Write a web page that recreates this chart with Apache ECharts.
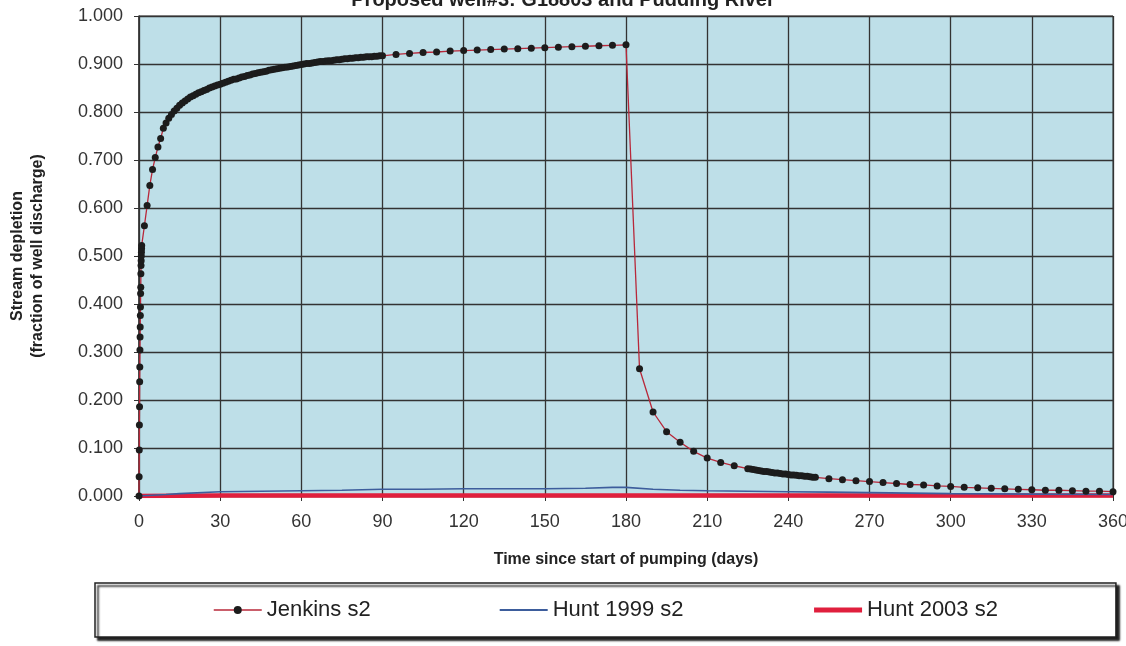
<!DOCTYPE html>
<html>
<head>
<meta charset="utf-8">
<title>Stream depletion</title>
<script src="https://cdn.jsdelivr.net/npm/echarts@6/dist/echarts.min.js"></script>
<style>
  html, body { margin: 0; padding: 0; background: #fff; }
  #main { width: 1126px; height: 646px; }
</style>
</head>
<body>
<div id="main"></div>
<script>
var chartDom = document.getElementById('main');
var myChart = echarts.init(chartDom);
var option;

// Jenkins s2
var jenkinsDays = [
  0, 0.05, 0.1, 0.15, 0.2, 0.25, 0.3, 0.35, 0.4, 0.45, 0.5, 0.55, 0.6, 0.65, 0.7, 0.75, 0.8, 0.85, 0.9, 0.95, 1,
  2, 3, 4, 5, 6, 7, 8, 9, 10,
  11, 12, 13, 14, 15, 16, 17, 18, 19, 20,
  21, 22, 23, 24, 25, 26, 27, 28, 29, 30,
  31, 32, 33, 34, 35, 36, 37, 38, 39, 40, 41, 42, 43, 44, 45,
  46, 47, 48, 49, 50, 51, 52, 53, 54, 55, 56, 57, 58, 59, 60,
  61, 62, 63, 64, 65, 66, 67, 68, 69, 70, 71, 72, 73, 74, 75,
  76, 77, 78, 79, 80, 81, 82, 83, 84, 85, 86, 87, 88, 89, 90,
  95, 100, 105, 110, 115, 120, 125, 130, 135, 140, 145, 150, 155, 160, 165, 170, 175, 180,
  185, 190, 195, 200, 205, 210, 215, 220, 225,
  226, 227, 228, 229, 230, 231, 232, 233, 234, 235, 236, 237, 238, 239, 240,
  241, 242, 243, 244, 245, 246, 247, 248, 249, 250,
  255, 260, 265, 270, 275, 280, 285, 290, 295, 300, 305, 310, 315, 320, 325, 330,
  335, 340, 345, 350, 355, 360
];
var jenkinsValues = [
  0, 0.040, 0.096, 0.148, 0.186, 0.238, 0.269, 0.304, 0.331, 0.352, 0.376, 0.394, 0.422, 0.435, 0.463, 0.480, 0.490, 0.500, 0.508, 0.515, 0.522,
  0.563, 0.605, 0.647, 0.680, 0.705, 0.727, 0.745, 0.766, 0.777,
  0.787, 0.795, 0.802, 0.808, 0.814, 0.819, 0.823, 0.827, 0.831, 0.834,
  0.837, 0.840, 0.842, 0.845, 0.847, 0.850, 0.852, 0.854, 0.856, 0.858,
  0.860, 0.862, 0.864, 0.866, 0.868, 0.869, 0.871, 0.873, 0.874, 0.876, 0.877, 0.879, 0.880, 0.882, 0.883,
  0.884, 0.885, 0.887, 0.888, 0.889, 0.890, 0.891, 0.892, 0.893, 0.894, 0.895, 0.896, 0.897, 0.898, 0.899,
  0.900, 0.901, 0.901, 0.902, 0.903, 0.904, 0.905, 0.905, 0.906, 0.907, 0.907, 0.908, 0.909, 0.909, 0.910,
  0.911, 0.911, 0.912, 0.912, 0.913, 0.913, 0.914, 0.914, 0.915, 0.915, 0.915, 0.916, 0.916, 0.917, 0.917,
  0.920, 0.922, 0.924, 0.925, 0.927, 0.928, 0.929, 0.930, 0.931, 0.932, 0.933, 0.934, 0.935, 0.936, 0.937, 0.938, 0.939, 0.940,
  0.265, 0.175, 0.134, 0.112, 0.093, 0.079, 0.070, 0.063, 0.057,
  0.056, 0.055, 0.054, 0.053, 0.052, 0.051, 0.051, 0.050, 0.049, 0.048, 0.048, 0.047, 0.046, 0.046, 0.045,
  0.044, 0.044, 0.043, 0.042, 0.042, 0.041, 0.041, 0.040, 0.039, 0.039,
  0.036, 0.034, 0.032, 0.030, 0.028, 0.026, 0.024, 0.023, 0.021, 0.020, 0.018, 0.017, 0.016, 0.015, 0.014, 0.013,
  0.012, 0.012, 0.011, 0.010, 0.010, 0.009
];

// Hunt 1999 s2
var hunt1999Days = [0, 10, 15, 30, 45, 60, 75, 90, 105, 120, 135, 150, 165, 175, 180, 190, 200, 210, 225, 240, 255, 270, 285, 300, 330, 360];
var hunt1999Values = [0, 0.003, 0.005, 0.009, 0.010, 0.011, 0.012, 0.014, 0.014, 0.015, 0.015, 0.015, 0.016, 0.018, 0.018, 0.014, 0.012, 0.011, 0.010, 0.009, 0.008, 0.007, 0.006, 0.005, 0.004, 0.003];

// Hunt 2003 s2
var hunt2003Days = [0, 30, 60, 90, 120, 150, 180, 210, 240, 270, 300, 330, 360];
var hunt2003Values = [0, 0.001, 0.001, 0.001, 0.001, 0.001, 0.001, 0.001, 0.001, 0.001, 0.001, 0.001, 0.001];

function pairs(xs, ys) {
  return xs.map(function (x, i) { return [x, ys[i]]; });
}

var FONT = '"Liberation Sans", Arial, sans-serif';

option = {
  animation: false,
  backgroundColor: '#fff',
  title: {
    text: 'Proposed well#3: G18803 and Pudding River',
    left: 'center',
    top: -15,
    textStyle: { fontFamily: FONT, fontSize: 20, fontWeight: 'bold', color: '#222' }
  },
  grid: {
    left: 139,
    right: 13,
    top: 16,
    bottom: 150,
    outerBoundsMode: 'none',
    containLabel: false,
    show: true,
    backgroundColor: '#bedfe8',
    borderColor: '#333',
    borderWidth: 1
  },
  legend: {
    left: 95,
    top: 583,
    width: 820,
    padding: [16, 118],
    itemGap: 128,
    itemWidth: 48,
    itemHeight: 10,
    backgroundColor: '#fff',
    borderColor: '#222',
    borderWidth: 1.5,
    shadowColor: 'rgba(0,0,0,0.9)',
    shadowBlur: 2,
    shadowOffsetX: 3,
    shadowOffsetY: 3,
    textStyle: { fontFamily: FONT, fontSize: 22, color: '#222' },
    data: [
      { name: 'Jenkins s2', lineStyle: { width: 1.5 } },
      { name: 'Hunt 1999 s2', itemStyle: { opacity: 0 }, lineStyle: { width: 2 } },
      { name: 'Hunt 2003 s2', itemStyle: { opacity: 0 }, lineStyle: { width: 5 } }
    ]
  },
  xAxis: {
    type: 'value',
    min: 0,
    max: 360,
    interval: 30,
    name: 'Time since start of pumping (days)',
    nameLocation: 'middle',
    nameGap: 56,
    nameTextStyle: { fontFamily: FONT, fontSize: 16, fontWeight: 'bold', color: '#222' },
    axisLine: { lineStyle: { color: '#333', width: 1.5 } },
    axisTick: { show: true, length: 5, lineStyle: { color: '#333' } },
    axisLabel: { fontFamily: FONT, fontSize: 18, color: '#333', margin: 17 },
    splitLine: { show: true, lineStyle: { color: '#333', width: 1.3 } }
  },
  yAxis: {
    type: 'value',
    min: 0,
    max: 1,
    interval: 0.1,
    name: 'Stream depletion\n(fraction of well discharge)',
    nameLocation: 'middle',
    nameGap: 91,
    nameTextStyle: { fontFamily: FONT, fontSize: 16, fontWeight: 'bold', color: '#222', lineHeight: 20 },
    axisLine: { show: true, lineStyle: { color: '#333', width: 1.5 } },
    axisTick: { show: true, length: 5, lineStyle: { color: '#333' } },
    axisLabel: {
      fontFamily: FONT, fontSize: 18, color: '#333', margin: 16,
      formatter: function (v) { return v.toFixed(3); }
    },
    splitLine: { show: true, lineStyle: { color: '#333', width: 1.3 } }
  },
  series: [
    {
      name: 'Hunt 2003 s2',
      type: 'line',
      data: pairs(hunt2003Days, hunt2003Values),
      symbol: 'none',
      lineStyle: { color: '#e01f3d', width: 4.5 },
      itemStyle: { color: '#e01f3d' },
      z: 2
    },
    {
      name: 'Hunt 1999 s2',
      type: 'line',
      data: pairs(hunt1999Days, hunt1999Values),
      symbol: 'none',
      lineStyle: { color: '#3d5d9c', width: 1.6 },
      itemStyle: { color: '#3d5d9c' },
      z: 3
    },
    {
      name: 'Jenkins s2',
      type: 'line',
      data: pairs(jenkinsDays, jenkinsValues),
      symbol: 'circle',
      symbolSize: 7,
      showAllSymbol: true,
      lineStyle: { color: '#b8283a', width: 1.3 },
      itemStyle: { color: '#1c1c1c' },
      z: 4
    }
  ]
};

option && myChart.setOption(option);
</script>
</body>
</html>
